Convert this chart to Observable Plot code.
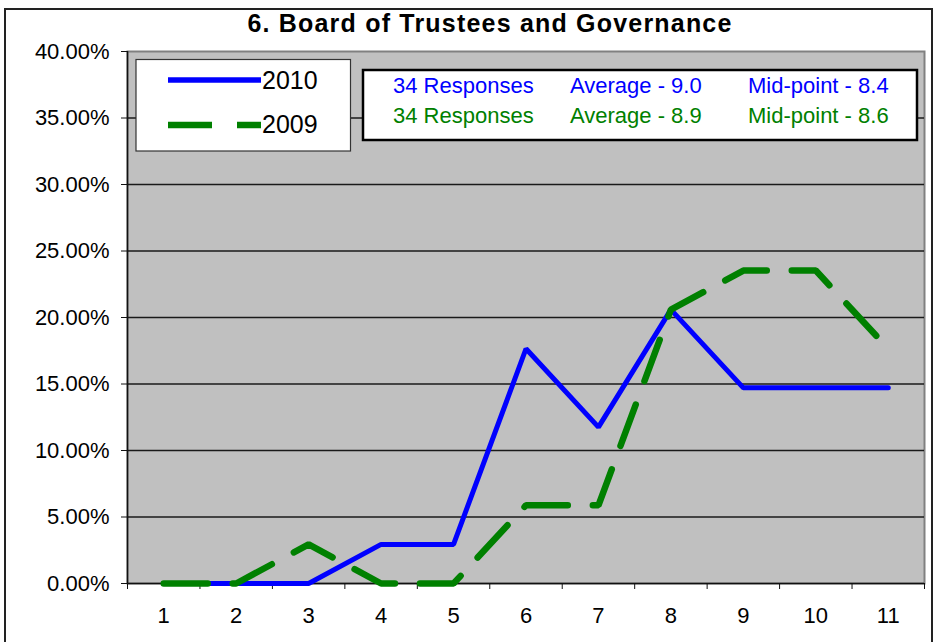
<!DOCTYPE html>
<html>
<head>
<meta charset="utf-8">
<script src="https://cdn.jsdelivr.net/npm/d3@7"></script>
<script src="https://cdn.jsdelivr.net/npm/@observablehq/plot@0.6"></script>
<style>
  html, body { margin: 0; padding: 0; background: #fff; }
  #wrap { position: relative; width: 942px; height: 642px; overflow: hidden; }
  #border { position: absolute; left: 4px; top: 8px; width: 929px; height: 660px; border: 2px solid #222; box-sizing: border-box; }
  #chart { position: absolute; left: 0; top: 0; }
</style>
</head>
<body>
<div id="wrap"><div id="border"></div><div id="chart"></div></div>
<script>
// ---- data ----
const title = "6. Board of Trustees and Governance";
const categories = [1, 2, 3, 4, 5, 6, 7, 8, 9, 10, 11];
const categoryBounds = [0.5, 1.5, 2.5, 3.5, 4.5, 5.5, 6.5, 7.5, 8.5, 9.5, 10.5, 11.5];
const series2010 = [0, 0, 0, 0.0294, 0.0294, 0.1765, 0.1176, 0.2059, 0.1471, 0.1471, 0.1471];
const series2009 = [0, 0, 0.0294, 0, 0, 0.0588, 0.0588, 0.2059, 0.2353, 0.2353, 0.1765];
const yTicks = [0, 0.05, 0.10, 0.15, 0.20, 0.25, 0.30, 0.35, 0.40];
const yTickLabels = ["0.00%", "5.00%", "10.00%", "15.00%", "20.00%", "25.00%", "30.00%", "35.00%", "40.00%"];
const seriesNames = ["2010", "2009"];
const seriesColors = ["#0000FF", "#008000"];
const statsResponses = ["34 Responses", "34 Responses"];
const statsAverage = ["Average - 9.0", "Average - 8.9"];
const statsMidpoint = ["Mid-point - 8.4", "Mid-point - 8.6"];

const rows2010 = categories.map((c, i) => ({x: c, y: series2010[i]}));
const rows2009 = categories.map((c, i) => ({x: c, y: series2009[i]}));

const font = "'Liberation Sans', Arial, Helvetica, sans-serif";

const chart = Plot.plot({
  width: 942,
  height: 642,
  marginTop: 51,
  marginBottom: 59,
  marginLeft: 127,
  marginRight: 18,
  style: {fontFamily: font, background: "transparent", color: "#000"},
  x: {domain: [0.5, 11.5], axis: null, label: null},
  y: {domain: [0, 0.4], axis: null, label: null},
  marks: [
    Plot.frame({fill: "#C0C0C0", stroke: "#808080", strokeWidth: 2}),
    Plot.gridY(yTicks.slice(1, -1), {stroke: "#1a1a1a", strokeOpacity: 1, strokeWidth: 1.3}),
    Plot.ruleX([categoryBounds[0]], {stroke: "#111", strokeWidth: 1.5}),
    Plot.ruleY([yTicks[0]], {stroke: "#111", strokeWidth: 1.5}),
    Plot.axisY(yTicks, {tickSize: 6, tickPadding: 12, fontSize: 22, stroke: "#111", label: null,
      tickFormat: (d) => yTickLabels[yTicks.indexOf(d)]}),
    Plot.axisX(categoryBounds, {tickSize: 6, stroke: "#111", label: null, tickFormat: () => ""}),
    Plot.axisX(categories, {tickSize: 0, tickPadding: 24, fontSize: 22, label: null, tickFormat: (d) => String(d)}),
    Plot.line(rows2010, {x: "x", y: "y", stroke: seriesColors[0], strokeWidth: 5, strokeLinejoin: "miter"}),
    Plot.line(rows2009, {x: "x", y: "y", stroke: seriesColors[1], strokeWidth: 6.5, strokeDasharray: "44,25", strokeLinejoin: "miter"})
  ]
});

document.getElementById("chart").appendChild(chart);

const svg = d3.select(chart);

// title
svg.append("text")
  .attr("x", 490).attr("y", 32)
  .attr("text-anchor", "middle")
  .attr("font-family", font)
  .attr("font-weight", "bold")
  .attr("font-size", 25)
  .attr("letter-spacing", 1.2)
  .attr("fill", "#000")
  .text(title);

// series legend
const lg = svg.append("g").attr("text-anchor", "start");
lg.append("rect").attr("x", 136).attr("y", 59.5).attr("width", 214.5).attr("height", 91.5)
  .attr("fill", "#fff").attr("stroke", "#333").attr("stroke-width", 1.2);
const legY = [80, 125];
const legBase = [89, 133];
seriesNames.forEach((name, i) => {
  lg.append("line").attr("x1", 168).attr("x2", 261).attr("y1", legY[i]).attr("y2", legY[i])
    .attr("stroke", seriesColors[i]).attr("stroke-width", i === 0 ? 5.5 : 6.5)
    .attr("stroke-dasharray", i === 0 ? null : "44,25");
  lg.append("text").attr("x", 262).attr("y", legBase[i]).attr("text-anchor", "start")
    .attr("font-family", font).attr("font-size", 25).attr("fill", "#000").text(name);
});

// stats box
const sg = svg.append("g").attr("text-anchor", "start");
sg.append("rect").attr("x", 363).attr("y", 70).attr("width", 554).attr("height", 70)
  .attr("fill", "#fff").attr("stroke", "#000").attr("stroke-width", 2.5);
const statBase = [93, 123];
const statCols = [[393, statsResponses], [570, statsAverage], [748, statsMidpoint]];
seriesNames.forEach((name, i) => {
  statCols.forEach(([x, arr]) => {
    sg.append("text").attr("x", x).attr("y", statBase[i]).attr("text-anchor", "start")
      .attr("font-family", font).attr("font-size", 22).attr("fill", seriesColors[i]).text(arr[i]);
  });
});
</script>
</body>
</html>
